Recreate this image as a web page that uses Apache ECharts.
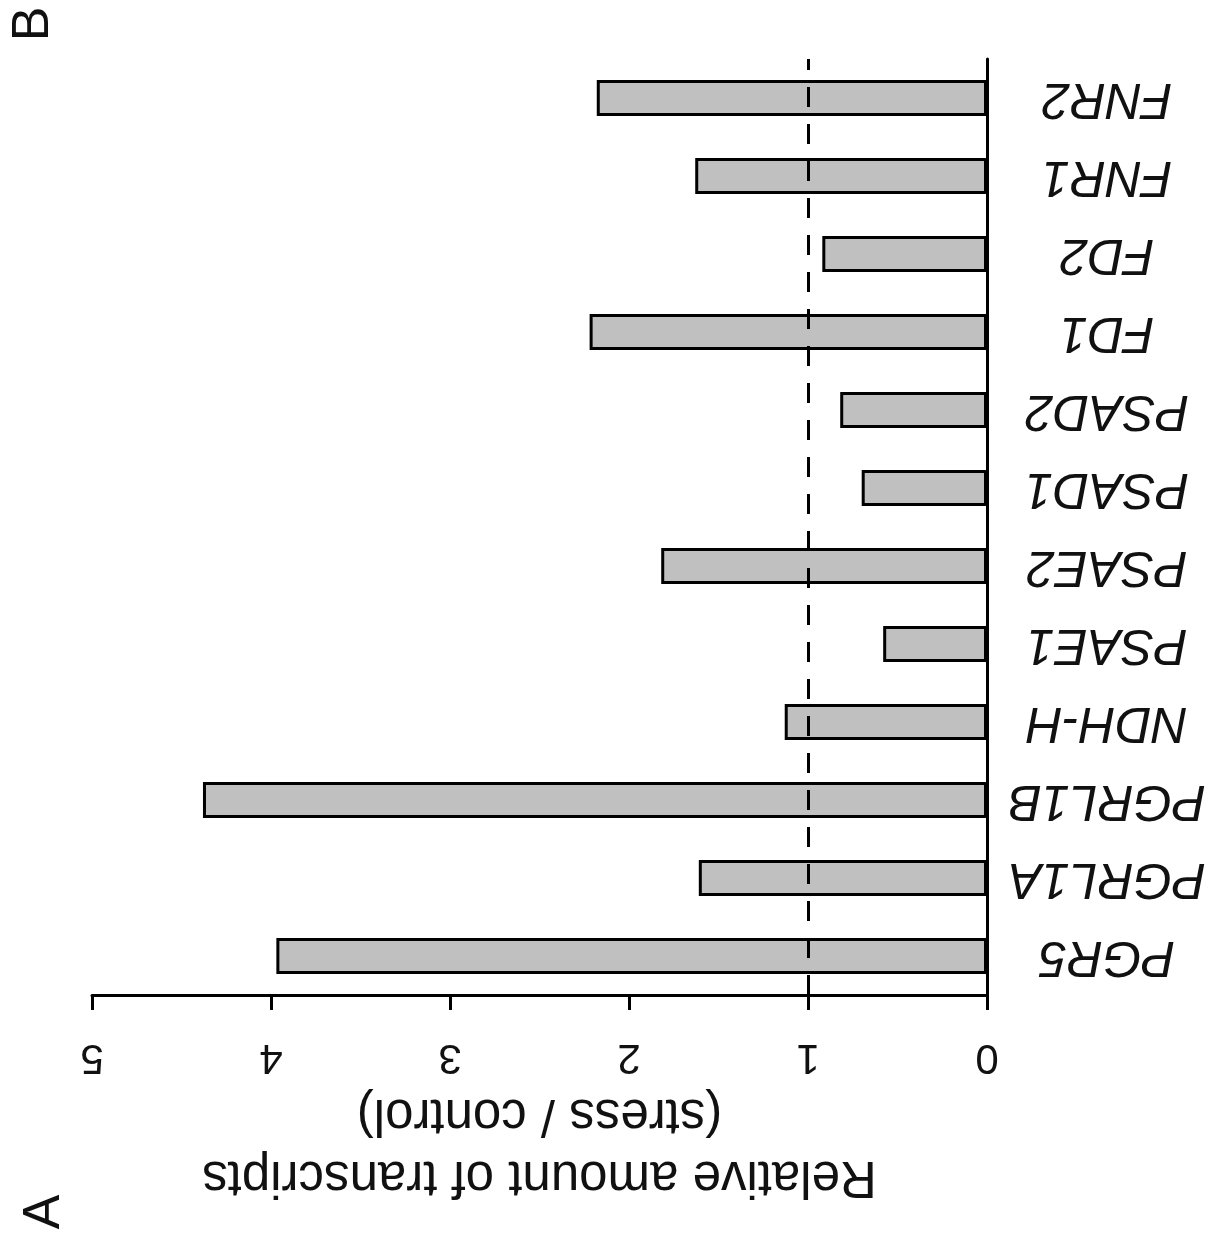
<!DOCTYPE html>
<html>
<head>
<meta charset="utf-8">
<script src="https://cdn.jsdelivr.net/npm/echarts@6/dist/echarts.min.js"></script>
<style>
  html, body { margin: 0; padding: 0; background: #fff; }
  #main { width: 1213px; height: 1245px; }
</style>
</head>
<body>
<div id="main"></div>
<script>
// genes, listed bottom to top
var genes = ["PGR5", "PGRL1A", "PGRL1B", "NDH-H", "PSAE1", "PSAE2",
             "PSAD1", "PSAD2", "FD1", "FD2", "FNR1", "FNR2"];
// relative amount of transcripts (stress / control)
var ratios = [3.97, 1.61, 4.38, 1.13, 0.58, 1.82, 0.70, 0.82, 2.22, 0.92, 1.63, 2.18];
var ticks = [0, 1, 2, 3, 4, 5];
var baseline = 1;

var myChart = echarts.init(document.getElementById("main"));

var font = "Liberation Sans";

myChart.setOption({
  animation: false,
  backgroundColor: "#fff",
  grid: {
    left: 92,
    right: 226,
    top: 59,
    bottom: 250,
    containLabel: false,
    outerBoundsMode: "none",
  },
  xAxis: {
    type: "value",
    inverse: true,
    min: ticks[0],
    max: ticks[ticks.length - 1],
    interval: 1,
    position: "bottom",
    splitLine: { show: false },
    axisLine: {
      show: true,
      lineStyle: { color: "#000", width: 3 },
    },
    axisTick: {
      show: true,
      length: 15,
      lineStyle: { color: "#000", width: 3 },
    },
    axisLabel: {
      rotate: 180,
      margin: 62,
      align: "center",
      verticalAlign: "middle",
      fontFamily: font,
      fontSize: 42,
      color: "#111",
    },
    name: "Relative amount of transcripts\n(stress / control)",
    nameLocation: "middle",
    nameRotate: 180,
    nameGap: 139,
    nameTextStyle: {
      fontFamily: font,
      fontSize: 51,
      lineHeight: 62,
      color: "#111",
      align: "center",
      verticalAlign: "middle",
    },
  },
  yAxis: {
    type: "category",
    data: genes,
    position: "right",
    axisLine: {
      show: true,
      onZero: false,
      lineStyle: { color: "#000", width: 3 },
    },
    axisTick: { show: false },
    axisLabel: {
      interval: 0,
      rotate: 180,
      margin: 120,
      align: "center",
      verticalAlign: "middle",
      fontFamily: font,
      fontStyle: "italic",
      fontSize: 50,
      color: "#111",
    },
  },
  series: [
    {
      type: "bar",
      data: ratios,
      barWidth: 36,
      itemStyle: {
        color: "#c0c0c0",
        borderColor: "#000",
        borderWidth: 3,
      },
      markLine: {
        silent: true,
        symbol: ["none", "none"],
        label: { show: false },
        lineStyle: {
          color: "#000",
          width: 3,
          type: [20, 17],
        },
        data: [{ xAxis: baseline }],
      },
    },
  ],
  graphic: [
    {
      type: "text",
      x: 45,
      y: 1212,
      rotation: Math.PI / 2,
      style: {
        text: "A",
        fontFamily: font,
        fontSize: 52,
        fill: "#111",
        align: "center",
        verticalAlign: "middle",
      },
    },
    {
      type: "text",
      x: 34,
      y: 24,
      rotation: Math.PI / 2,
      style: {
        text: "B",
        fontFamily: font,
        fontSize: 52,
        fill: "#111",
        align: "center",
        verticalAlign: "middle",
      },
    },
  ],
});
</script>
</body>
</html>
